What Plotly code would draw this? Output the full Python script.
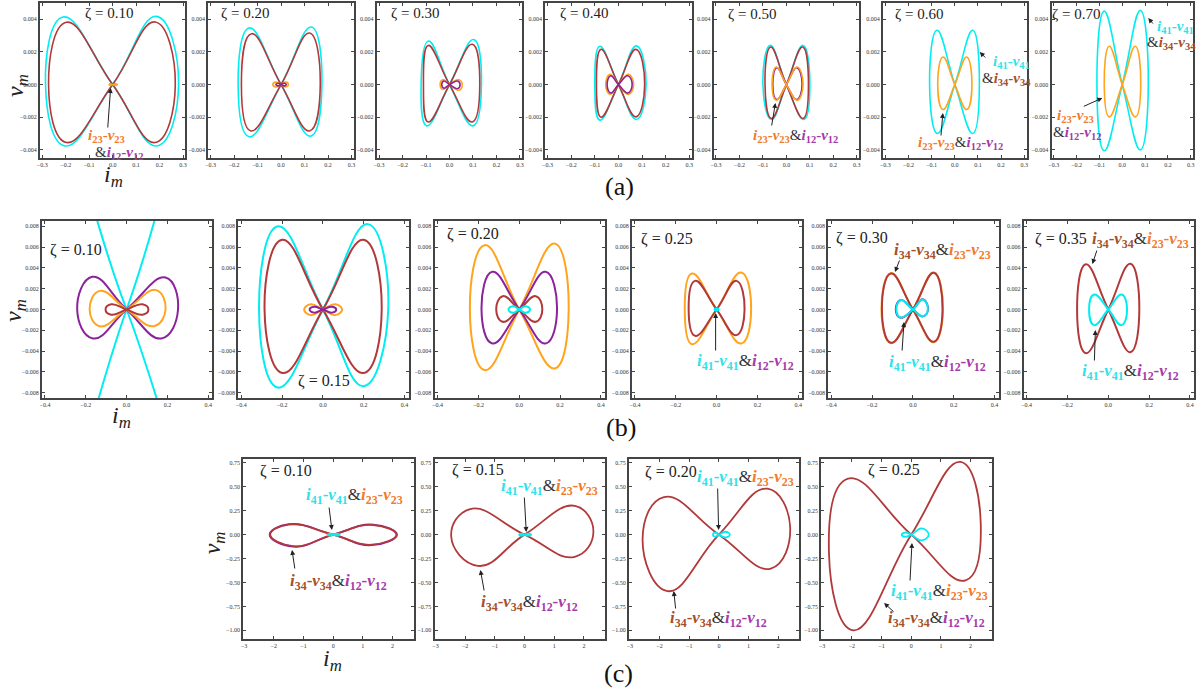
import plotly.graph_objects as go

# ---------------- data (key points of each pinched loop) -------------
# each loop: [top-right, right extreme, bottom-right, top-left, left extreme, bottom-left]  (i_m, v_m)
A_ZETA = ["0.10", "0.20", "0.30", "0.40", "0.50", "0.60", "0.70"]
B_ZETA = ["0.10", "0.15", "0.20", "0.25", "0.30", "0.35"]
C_ZETA = ["0.10", "0.15", "0.20", "0.25"]

A1_CYAN = [(0.187, 0.00418), (0.281, 0), (0.189, -0.00376), (-0.211, 0.00414), (-0.286, 0), (-0.204, -0.00376)]
A1_BROWN = [(0.181, 0.00384), (0.267, 0), (0.181, -0.00355), (-0.197, 0.00382), (-0.273, 0), (-0.197, -0.00355)]
A1_PURPLE = [(0.010, 0.00003), (0.015, 0), (0.010, -0.00003), (-0.008, 0.00003), (-0.012, 0), (-0.008, -0.00003)]
A1_ORANGE = [(0.013, 0.00005), (0.020, 0), (0.013, -0.00005), (-0.010, 0.00005), (-0.015, 0), (-0.010, -0.00005)]

A2_CYAN = [(0.129, 0.00353), (0.174, 0), (0.126, -0.00316), (-0.136, 0.00347), (-0.183, 0), (-0.136, -0.00320)]
A2_BROWN = [(0.121, 0.00316), (0.167, 0), (0.121, -0.00284), (-0.126, 0.00312), (-0.169, 0), (-0.129, -0.00284)]
A2_ORANGE = [(0.020, 0.00015), (0.031, 0), (0.020, -0.00015), (-0.022, 0.00015), (-0.035, 0), (-0.022, -0.00015)]
A2_PURPLE = [(0.014, 0.00008), (0.022, 0), (0.014, -0.00008), (-0.013, 0.00008), (-0.022, 0), (-0.013, -0.00008)]

A3_CYAN = [(0.103, 0.00276), (0.136, 0), (0.100, -0.00253), (-0.090, 0.00267), (-0.121, 0), (-0.097, -0.00253)]
A3_BROWN = [(0.097, 0.00247), (0.129, 0), (0.097, -0.00229), (-0.091, 0.00240), (-0.111, 0), (-0.091, -0.00229)]
A3_ORANGE = [(0.040, 0.00030), (0.054, 0), (0.040, -0.00035), (-0.029, 0.00030), (-0.040, 0), (-0.029, -0.00030)]
A3_PURPLE = [(0.034, 0.00022), (0.045, 0), (0.034, -0.00025), (-0.024, 0.00022), (-0.033, 0), (-0.024, -0.00022)]

A4_CYAN = [(0.076, 0.00237), (0.117, 0), (0.076, -0.00214), (-0.079, 0.00235), (-0.100, 0), (-0.079, -0.00218)]
A4_BROWN = [(0.074, 0.00216), (0.111, 0), (0.074, -0.00198), (-0.074, 0.00216), (-0.093, 0), (-0.074, -0.00200)]
A4_ORANGE = [(0.043, 0.00063), (0.064, 0), (0.043, -0.00060), (-0.036, 0.00063), (-0.054, 0), (-0.036, -0.00060)]
A4_PURPLE = [(0.040, 0.00054), (0.058, 0), (0.040, -0.00052), (-0.033, 0.00054), (-0.048, 0), (-0.033, -0.00052)]

A5_CYAN = [(0.071, 0.00240), (0.100, 0), (0.074, -0.00214), (-0.069, 0.00240), (-0.100, 0), (-0.064, -0.00214)]
A5_BROWN = [(0.069, 0.00230), (0.094, 0), (0.071, -0.00208), (-0.067, 0.00230), (-0.091, 0), (-0.064, -0.00208)]
A5_PURPLE = [(0.044, 0.00104), (0.067, 0), (0.044, -0.00092), (-0.041, 0.00104), (-0.058, 0), (-0.041, -0.00092)]
A5_ORANGE = [(0.046, 0.00108), (0.071, 0), (0.046, -0.00096), (-0.043, 0.00108), (-0.061, 0), (-0.043, -0.00096)]

A6_CYAN = [(0.077, 0.00333), (0.106, 0), (0.077, -0.00300), (-0.077, 0.00333), (-0.109, 0), (-0.075, -0.00300)]
A6_ORANGE = [(0.051, 0.00169), (0.074, 0), (0.051, -0.00153), (-0.051, 0.00169), (-0.074, 0), (-0.051, -0.00153)]

A7_CYAN = [(0.079, 0.00455), (0.114, 0), (0.079, -0.00400), (-0.079, 0.00450), (-0.111, 0), (-0.079, -0.00406)]
A7_ORANGE = [(0.057, 0.00235), (0.081, 0), (0.057, -0.00198), (-0.057, 0.00235), (-0.079, 0), (-0.057, -0.00198)]

B1_CYAN = [(0.60, 0.0336), (0.90, 0), (0.60, -0.0293), (-0.60, 0.0325), (-0.90, 0), (-0.60, -0.0325)]
B1_PURPLE = [(0.191, 0.00307), (0.252, 0), (0.171, -0.00278), (-0.168, 0.00314), (-0.242, 0), (-0.165, -0.00278)]
B1_ORANGE = [(0.145, 0.00186), (0.191, 0), (0.134, -0.00160), (-0.132, 0.00179), (-0.181, 0), (-0.132, -0.00160)]
B1_BROWN = [(0.078, 0.00050), (0.107, 0), (0.078, -0.00050), (-0.076, 0.00050), (-0.103, 0), (-0.076, -0.00050)]

B2_CYAN = [(0.220, 0.00820), (0.320, 0), (0.199, -0.00736), (-0.220, 0.00800), (-0.313, 0), (-0.220, -0.00750)]
B2_BROWN = [(0.199, 0.00670), (0.288, 0), (0.199, -0.00610), (-0.200, 0.00670), (-0.286, 0), (-0.197, -0.00610)]
B2_ORANGE = [(0.061, 0.00050), (0.094, 0), (0.061, -0.00054), (-0.060, 0.00050), (-0.092, 0), (-0.060, -0.00054)]
B2_PURPLE = [(0.045, 0.00026), (0.065, 0), (0.045, -0.00030), (-0.044, 0.00026), (-0.065, 0), (-0.044, -0.00030)]

B3_ORANGE = [(0.173, 0.00634), (0.242, 0), (0.173, -0.00566), (-0.169, 0.00618), (-0.242, 0), (-0.169, -0.00582)]
B3_PURPLE = [(0.129, 0.00362), (0.185, 0), (0.129, -0.00326), (-0.132, 0.00362), (-0.185, 0), (-0.132, -0.00326)]
B3_BROWN = [(0.081, 0.00128), (0.113, 0), (0.081, -0.00118), (-0.081, 0.00128), (-0.113, 0), (-0.081, -0.00118)]
B3_CYAN = [(0.032, 0.00032), (0.053, 0), (0.032, -0.00032), (-0.032, 0.00032), (-0.053, 0), (-0.032, -0.00032)]

B4_ORANGE = [(0.121, 0.00355), (0.169, 0), (0.121, -0.00326), (-0.121, 0.00346), (-0.156, 0), (-0.121, -0.00333)]
B4_BROWN = [(0.097, 0.00275), (0.137, 0), (0.097, -0.00246), (-0.105, 0.00275), (-0.137, 0), (-0.105, -0.00253)]
B4_CYAN = [(0.006, 0.00010), (0.010, 0), (0.006, -0.00010), (-0.006, 0.00010), (-0.010, 0), (-0.006, -0.00010)]

B5_ORANGE = [(0.102, 0.00356), (0.147, 0), (0.102, -0.00314), (-0.108, 0.00350), (-0.154, 0), (-0.108, -0.00324)]
B5_BROWN = [(0.102, 0.00352), (0.145, 0), (0.102, -0.00310), (-0.108, 0.00346), (-0.152, 0), (-0.108, -0.00320)]
B5_PURPLE = [(0.048, 0.00098), (0.074, 0), (0.048, -0.00066), (-0.060, 0.00092), (-0.084, 0), (-0.060, -0.00079)]
B5_CYAN = [(0.048, 0.00096), (0.073, 0), (0.048, -0.00064), (-0.060, 0.00090), (-0.081, 0), (-0.060, -0.00077)]

B6_BROWN = [(0.108, 0.00440), (0.152, 0), (0.108, -0.00410), (-0.110, 0.00435), (-0.153, 0), (-0.110, -0.00420)]
B6_CYAN = [(0.065, 0.00144), (0.092, 0), (0.065, -0.00150), (-0.069, 0.00144), (-0.094, 0), (-0.069, -0.00150)]

C1_PURPLE = [(1.35, 0.105), (2.15, 0), (1.30, -0.110), (-1.50, 0.110), (-2.14, 0), (-1.35, -0.125)]
C1_BROWN = [(1.35, 0.100), (2.13, 0), (1.30, -0.105), (-1.50, 0.105), (-2.12, 0), (-1.35, -0.120)]
C1_ORANGE = [(0.08, 0.008), (0.15, 0), (0.08, -0.008), (-0.10, 0.008), (-0.20, 0), (-0.10, -0.008)]
C1_CYAN = [(0.12, 0.010), (0.22, 0), (0.12, -0.010), (-0.08, 0.010), (-0.15, 0), (-0.08, -0.010)]

C2_BROWN = [(1.70, 0.300), (2.32, 0.03), (1.69, -0.232), (-1.83, 0.267), (-2.47, -0.02), (-1.57, -0.326)]
C2_CYAN = [(0.12, 0.010), (0.22, 0), (0.12, -0.010), (-0.10, 0.010), (-0.18, 0), (-0.10, -0.010)]

C3_BROWN = [(1.64, 0.480), (2.40, 0.08), (1.75, -0.354), (-1.85, 0.393), (-2.57, -0.05), (-1.73, -0.590)]
C3_CYAN = [(0.22, 0.030), (0.37, 0), (0.22, -0.030), (-0.12, 0.020), (-0.20, 0), (-0.12, -0.020)]

C4_BROWN = [(1.66, 0.760), (2.34, 0.12), (1.83, -0.477), (-2.13, 0.586), (-2.77, -0.20), (-1.96, -1.000)]
C4_CYAN = [(0.35, 0.065), (0.59, 0), (0.35, -0.060), (-0.20, 0.022), (-0.32, 0), (-0.20, -0.022)]

# ---------------- styles / layout -------------
W, H = 1203, 688
LINE = {"cyan": "#00eef2", "brown": "#b2393a", "orange": "#ffa41c", "purple": "#8c229c"}
TXT = {"cyan": "#2fe2e8", "brown": "#a5502a", "orange": "#f27a2a", "purple": "#a53aa8"}
FRAME = "#444444"
SERIF = "Liberation Serif"

A_LEFT = [37, 206, 375, 544, 713, 883, 1052]
A_RIGHT = [183, 352, 521, 691, 859, 1027, 1194]
A_TOP, A_BOTTOM = 3, 158
B_LEFT = [39, 236, 433, 631, 828, 1024]
B_WIDTH = 171
B_TOP, B_BOTTOM = 221, 398
C_LEFT = [241, 433, 628, 821]
C_WIDTH = 171
C_TOP, C_BOTTOM = 459, 639

A_XR, A_YR = [-0.31, 0.31], [-0.0045, 0.005]
B_XR, B_YR = [-0.415, 0.42], [-0.0085, 0.0085]
C_XR, C_YR = [-3.03, 2.71], [-1.09, 0.79]

panels = []
A_CURVES = [
    [("cyan", A1_CYAN), ("brown", A1_BROWN), ("purple", A1_PURPLE), ("orange", A1_ORANGE)],
    [("cyan", A2_CYAN), ("brown", A2_BROWN), ("orange", A2_ORANGE), ("purple", A2_PURPLE)],
    [("cyan", A3_CYAN), ("brown", A3_BROWN), ("orange", A3_ORANGE), ("purple", A3_PURPLE)],
    [("cyan", A4_CYAN), ("brown", A4_BROWN), ("orange", A4_ORANGE), ("purple", A4_PURPLE)],
    [("cyan", A5_CYAN), ("brown", A5_BROWN), ("purple", A5_PURPLE), ("orange", A5_ORANGE)],
    [("cyan", A6_CYAN), ("orange", A6_ORANGE)],
    [("cyan", A7_CYAN), ("orange", A7_ORANGE)],
]
B_CURVES = [
    [("cyan", B1_CYAN), ("purple", B1_PURPLE), ("orange", B1_ORANGE), ("brown", B1_BROWN)],
    [("cyan", B2_CYAN), ("brown", B2_BROWN), ("orange", B2_ORANGE), ("purple", B2_PURPLE)],
    [("orange", B3_ORANGE), ("purple", B3_PURPLE), ("brown", B3_BROWN), ("cyan", B3_CYAN)],
    [("orange", B4_ORANGE), ("brown", B4_BROWN), ("cyan", B4_CYAN)],
    [("orange", B5_ORANGE), ("brown", B5_BROWN), ("purple", B5_PURPLE), ("cyan", B5_CYAN)],
    [("brown", B6_BROWN), ("cyan", B6_CYAN)],
]
C_CURVES = [
    [("purple", C1_PURPLE), ("brown", C1_BROWN), ("orange", C1_ORANGE), ("cyan", C1_CYAN)],
    [("brown", C2_BROWN), ("cyan", C2_CYAN)],
    [("brown", C3_BROWN), ("cyan", C3_CYAN)],
    [("brown", C4_BROWN), ("cyan", C4_CYAN)],
]

for i in range(7):
    panels.append(dict(box=(A_LEFT[i], A_RIGHT[i], A_TOP, A_BOTTOM), xr=A_XR, yr=A_YR,
                       xt=dict(tick0=-0.3, dtick=0.1, tickformat=".1f"),
                       yt=dict(tick0=-0.004, dtick=0.002, tickformat=".3f"),
                       curves=A_CURVES[i], lw=1.6))
for i in range(6):
    panels.append(dict(box=(B_LEFT[i], B_LEFT[i] + B_WIDTH, B_TOP, B_BOTTOM), xr=B_XR, yr=B_YR,
                       xt=dict(tick0=-0.4, dtick=0.2, tickformat=".1f"),
                       yt=dict(tick0=-0.008, dtick=0.002, tickformat=".3f"),
                       curves=B_CURVES[i], lw=2.0))
for i in range(4):
    panels.append(dict(box=(C_LEFT[i], C_LEFT[i] + C_WIDTH, C_TOP, C_BOTTOM), xr=C_XR, yr=C_YR,
                       xt=dict(tick0=-3, dtick=1, tickformat="d"),
                       yt=dict(tick0=-1.0, dtick=0.25, tickformat=".2f"),
                       curves=C_CURVES[i], lw=1.8))


def loop_path(pts):
    tr, r, br, tl, l, bl = pts
    seq = [(0, 0), tr, r, br, (0, 0), tl, l, bl, (0, 0)]
    return [p[0] for p in seq], [p[1] for p in seq]


fig = go.Figure()
layout = {}
for k, p in enumerate(panels, start=1):
    left, right, top, bottom = p["box"]
    xa = "x" if k == 1 else f"x{k}"
    ya = "y" if k == 1 else f"y{k}"
    for color, pts in p["curves"]:
        xs, ys = loop_path(pts)
        fig.add_trace(go.Scatter(x=xs, y=ys, mode="lines", xaxis=xa, yaxis=ya,
                                 line=dict(color=LINE[color], width=p["lw"], shape="spline", smoothing=1.3),
                                 hoverinfo="skip", showlegend=False))
    common = dict(showline=True, linecolor=FRAME, linewidth=2, mirror="ticks", ticks="inside",
                  ticklen=3, tickwidth=1, tickcolor=FRAME, showgrid=False, zeroline=False,
                  tickfont=dict(family=SERIF, size=6, color="#333333"), fixedrange=True)
    layout["xaxis" if k == 1 else f"xaxis{k}"] = dict(
        domain=[left / W, right / W], range=p["xr"], anchor=ya, tickmode="linear", **p["xt"], **common)
    layout["yaxis" if k == 1 else f"yaxis{k}"] = dict(
        domain=[1 - bottom / H, 1 - top / H], range=p["yr"], anchor=xa, tickmode="linear", **p["yt"], **common)


def P(px, py):
    return px / W, 1 - py / H


def seg(name, sub):
    return (f"<span style='color:{TXT[name]}'><b><i>i</i><sub>{sub}</sub>-<i>v</i>"
            f"<sub>{sub}</sub></b></span>")


AMP = "<span style='color:#333333'>&amp;</span>"

annotations = []


def text(px, py, s, size, family=SERIF, color="#222222", angle=0):
    x, y = P(px, py)
    annotations.append(dict(x=x, y=y, xref="paper", yref="paper", text=s, showarrow=False,
                            xanchor="center", yanchor="middle", textangle=angle,
                            font=dict(family=family, size=size, color=color)))


def arrow(tail, tip):
    x, y = P(*tip)
    annotations.append(dict(x=x, y=y, xref="paper", yref="paper", text="", showarrow=True,
                            ax=tail[0] - tip[0], ay=tail[1] - tip[1], arrowhead=2, arrowsize=1,
                            arrowwidth=1, arrowcolor="#222222", standoff=0))


# zeta labels
A_ZPOS = [(106, 13), (243, 13), (413, 13), (583, 13), (751, 14), (919, 14), (1077, 14)]
B_ZPOS = [(73, 250), (322, 381), (472, 234), (666, 239), (862, 238), (1062, 239)]
C_ZPOS = [(284, 471), (477, 470), (670, 472), (894, 470)]
for z, pos in zip(A_ZETA, A_ZPOS):
    text(pos[0], pos[1], f"ζ = {z}", 15)
for z, pos in zip(B_ZETA, B_ZPOS):
    text(pos[0], pos[1], f"ζ = {z}", 16)
for z, pos in zip(C_ZETA, C_ZPOS):
    text(pos[0], pos[1], f"ζ = {z}", 16)

# axis titles
for pos in [(14, 85), (12, 310), (212, 543)]:
    text(pos[0], pos[1], "<i>v<sub>m</sub></i>", 24, angle=-90)
for pos in [(111, 176), (119, 417), (331, 660)]:
    text(pos[0], pos[1], "<i>i<sub>m</sub></i>", 24)

# panel letters
text(619, 186, "(a)", 26, color="#111111")
text(620, 427, "(b)", 26, color="#111111")
text(618, 673, "(c)", 26, color="#111111")

SA, SB = 15, 17
# row (a) callouts
text(104, 136, seg("orange", "23"), SA)
text(117, 153, AMP + seg("purple", "12"), SA)
arrow((105, 129), (108, 88))
text(795, 136, seg("orange", "23") + AMP + seg("purple", "12"), SA)
arrow((771, 127), (775, 103))
text(1012, 62, seg("cyan", "41"), SA)
text(1007, 79, AMP + seg("brown", "34"), SA)
arrow((987, 59), (980, 52))
text(961, 143, seg("orange", "23") + AMP + seg("purple", "12"), SA)
arrow((941, 137), (943, 113))
text(1176, 27, seg("cyan", "41"), SA)
text(1172, 43, AMP + seg("brown", "34"), SA)
arrow((1155, 25), (1149, 18))
text(1076, 116, seg("orange", "23"), SA)
text(1078, 133, AMP + seg("purple", "12"), SA)
arrow((1083, 107), (1103, 98))

# row (b) callouts
text(745, 362, seg("cyan", "41") + AMP + seg("purple", "12"), SB)
arrow((715, 352), (715, 313))
text(943, 251, seg("brown", "34") + AMP + seg("orange", "23"), SB)
arrow((900, 259), (895, 272))
text(938, 363, seg("cyan", "41") + AMP + seg("purple", "12"), SB)
arrow((902, 352), (904, 322))
text(1141, 240, seg("brown", "34") + AMP + seg("orange", "23"), SB)
arrow((1098, 249), (1093, 264))
text(1131, 372, seg("cyan", "41") + AMP + seg("purple", "12"), SB)
arrow((1095, 362), (1096, 330))

# row (c) callouts
text(353, 496, seg("cyan", "41") + AMP + seg("orange", "23"), SB)
arrow((327, 506), (330, 530))
text(337, 582, seg("brown", "34") + AMP + seg("purple", "12"), SB)
arrow((293, 570), (290, 550))
text(548, 487, seg("cyan", "41") + AMP + seg("orange", "23"), SB)
arrow((523, 496), (525, 532))
text(528, 603, seg("brown", "34") + AMP + seg("purple", "12"), SB)
arrow((483, 592), (479, 570))
text(745, 478, seg("cyan", "41") + AMP + seg("orange", "23"), SB)
arrow((717, 487), (718, 530))
text(718, 619, seg("brown", "34") + AMP + seg("purple", "12"), SB)
arrow((675, 610), (673, 591))
text(940, 592, seg("cyan", "41") + AMP + seg("orange", "23"), SB)
arrow((910, 582), (912, 543))
text(937, 619, seg("brown", "34") + AMP + seg("purple", "12"), SB)
arrow((895, 613), (884, 603))

fig.update_layout(width=W, height=H, margin=dict(l=0, r=0, t=0, b=0, pad=0),
                  paper_bgcolor="white", plot_bgcolor="white", showlegend=False,
                  annotations=annotations, **layout)

fig.write_html("out.html", config={"displayModeBar": False},
               post_script="document.body.style.margin='0';document.body.style.overflow='hidden';")
